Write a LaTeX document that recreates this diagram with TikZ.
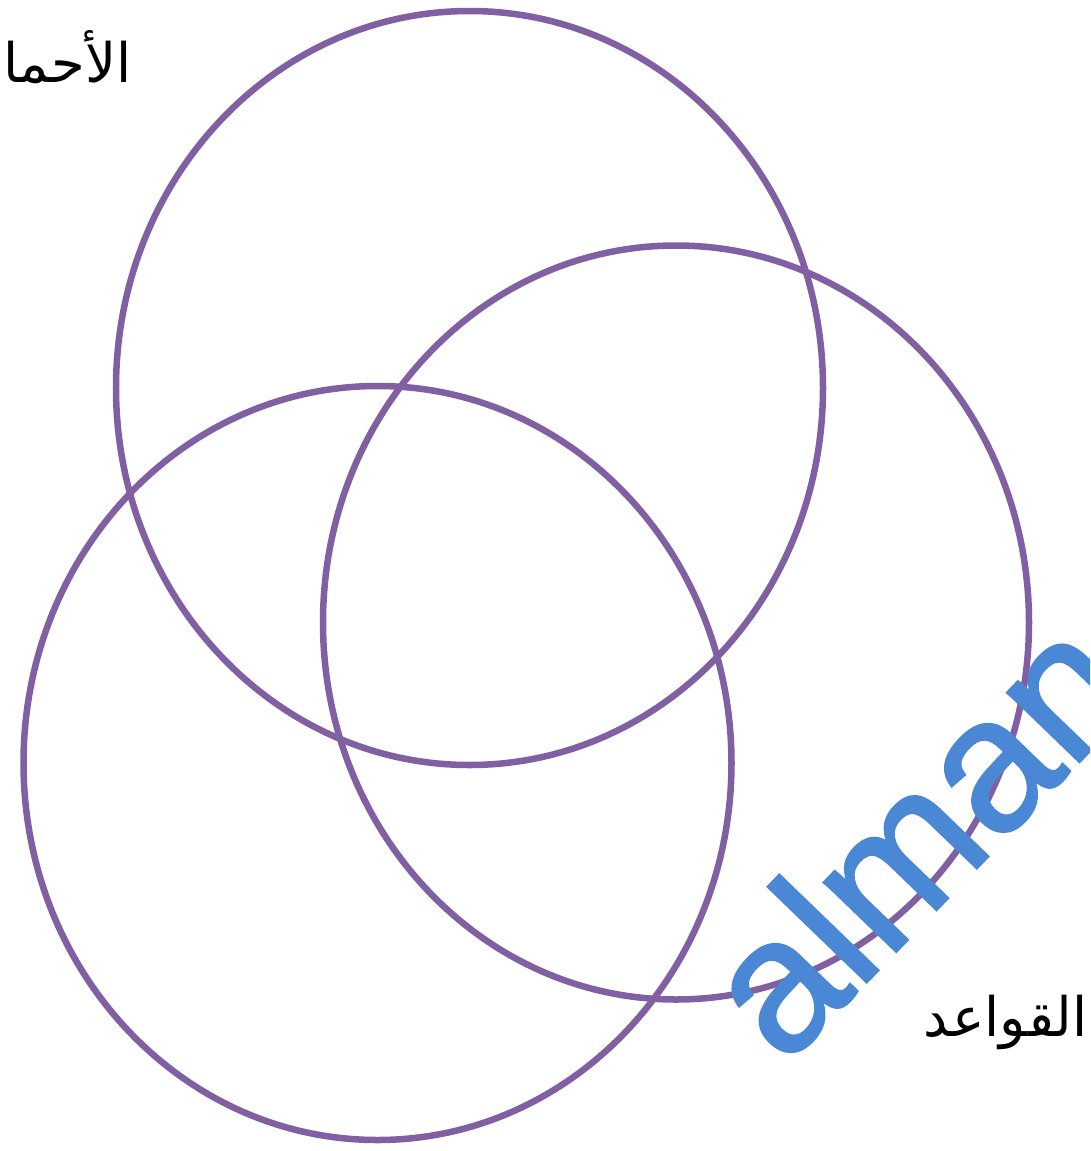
\documentclass[tikz,border=0pt]{standalone}
\usepackage{fontspec}
\newfontfamily\arabicfont[Script=Arabic]{DejaVu Sans}
\newfontfamily\markfont[FakeBold=1.2]{Liberation Sans}
\TeXXeTstate=1
\usepackage{tikz}
\usetikzlibrary{positioning}
\definecolor{vennpurple}{RGB}{128,96,162}
\definecolor{markblue}{RGB}{74,136,214}

\begin{document}
\begin{tikzpicture}[
  x=0.01cm, y=-0.01cm,
  ring/.style={draw=vennpurple, line width=1.85pt},
  lbl/.style={font=\arabicfont\fontsize{15.5}{18}\selectfont, inner sep=0pt},
]
\useasboundingbox (0,0) rectangle (1090,1151);
\clip (0,0) rectangle (1090,1151);

% the three sets
\draw[ring] (469.5,388) ellipse [x radius=353.5, y radius=377];
\draw[ring] (676,622.5) ellipse [x radius=353, y radius=377];
\draw[ring] (377.5,763) ellipse [x radius=354, y radius=377];

% labels
\node[lbl, anchor=base east] (acids) at (132,82) {\beginR الأحماض\endR};
\node[lbl, anchor=base east] (bases) at (1088,1036) {\beginR القواعد\endR};

% watermark
\node[font=\markfont\fontsize{54}{56}\selectfont, text=markblue, inner sep=0pt,
      anchor=base west, rotate=46] (mark) at (784,1068) {almana};

\end{tikzpicture}
\end{document}
